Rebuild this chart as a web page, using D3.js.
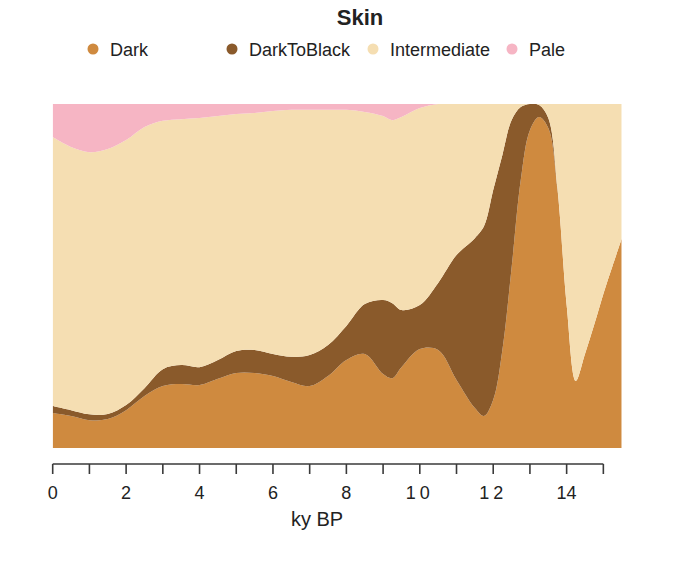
<!DOCTYPE html>
<html>
<head>
<meta charset="utf-8">
<script src="https://cdn.jsdelivr.net/npm/d3@7"></script>
<style>
    body { margin: 0; background: #fff; }
    svg { display: block; font-family: "Liberation Sans", Arial, sans-serif; }
</style>
</head>
<body>
<div id="chart"></div>
<script>
// proportions (%), stacked bottom -> top
const kyBP = [0, 0.5, 1, 1.5, 2, 2.5, 3, 3.5, 4, 4.5, 5, 5.5, 6, 6.5, 7, 7.5, 8, 8.5, 9, 9.25, 9.5,
    10, 10.5, 11, 11.5, 11.75, 12, 12.25, 12.5, 12.75, 13, 13.25, 13.5, 13.75, 14, 14.25, 14.5, 14.75, 15, 15.25, 15.5];

const dark = [10.2, 9.3, 8.1, 8.4, 11.0, 15.1, 18.0, 18.6, 18.3, 20.1, 21.8, 21.8, 20.9, 19.2, 18.0, 20.9, 25.6, 27.3, 21.5, 20.3, 23.5,
    28.8, 28.5, 19.8, 11.6, 9.3, 14.0, 28.5, 52.3, 77.9, 92.4, 96.2, 93.0, 75.0, 41.6, 19.5, 27.3, 35.8, 44.8, 52.9, 60.8];
const darkToBlack = [2.0, 1.7, 1.7, 1.5, 1.5, 2.3, 4.9, 5.5, 5.2, 5.5, 6.4, 6.7, 6.4, 7.3, 9.0, 9.0, 9.9, 14.5, 21.5, 21.8, 16.6,
    12.8, 19.5, 36.3, 49.4, 55.2, 61.0, 56.7, 43.0, 21.2, 7.6, 3.5, 2.9, 0.5, 0, 0, 0, 0, 0, 0, 0];
const intermediate = [78.2, 76.5, 76.2, 77.0, 77.0, 75.9, 72.1, 71.5, 72.4, 70.9, 68.9, 68.9, 70.6, 71.8, 71.2, 68.3, 62.8, 55.8, 53.5, 53.2, 56.1,
    57.3, 52.0, 43.9, 39.0, 35.5, 25.0, 14.8, 4.7, 0.9, 0, 0.3, 4.1, 24.5, 58.4, 80.5, 72.7, 64.2, 55.2, 47.1, 39.2];
const pale = [9.6, 12.5, 14.0, 13.1, 10.5, 6.7, 4.9, 4.4, 4.1, 3.5, 2.9, 2.6, 2.0, 1.7, 1.7, 1.7, 1.7, 2.3, 3.5, 4.7, 3.8,
    1.2, 0, 0, 0, 0, 0, 0, 0, 0, 0, 0, 0, 0, 0, 0, 0, 0, 0, 0, 0];

const categories = ["Dark", "DarkToBlack", "Intermediate", "Pale"];
const colors = ["#cf8a3f", "#8a5a2b", "#f5deb2", "#f6b5c4"];
const xTicks = d3.range(0, 16);
const xLabels = d3.range(0, 15, 2);

const width = 680, height = 569;
const plot = { left: 52.7, right: 621.7, top: 104, bottom: 448 };

const rows = kyBP.map((k, i) => ({
    ky: k,
    Dark: dark[i],
    DarkToBlack: darkToBlack[i],
    Intermediate: intermediate[i],
    Pale: pale[i]
}));

const svg = d3.select("#chart").append("svg")
    .attr("width", width)
    .attr("height", height);

const x = d3.scaleLinear().domain([0, 15.5]).range([plot.left, plot.right]);
const y = d3.scaleLinear().domain([0, 1]).range([plot.bottom, plot.top]);
const color = d3.scaleOrdinal().domain(categories).range(colors);

const series = d3.stack()
    .keys(categories)
    .offset(d3.stackOffsetExpand)(rows);

const area = d3.area()
    .curve(d3.curveCatmullRom.alpha(0.5))
    .x(d => x(d.data.ky))
    .y0(d => y(d[0]))
    .y1(d => y(d[1]));

svg.append("defs").append("clipPath")
    .attr("id", "plot-clip")
    .append("rect")
    .attr("x", plot.left).attr("y", plot.top)
    .attr("width", plot.right - plot.left)
    .attr("height", plot.bottom - plot.top);

svg.append("g")
    .attr("clip-path", "url(#plot-clip)")
    .selectAll("path")
    .data(series)
    .join("path")
    .attr("fill", d => color(d.key))
    .attr("d", area);

// axis: minor ticks every ky, labels every 2
const axisY = 464;
const gx = svg.append("g").attr("transform", `translate(0,${axisY})`);

gx.append("line")
    .attr("x1", x(0)).attr("x2", x(15))
    .attr("stroke", "#3a3a3a").attr("stroke-width", 1.6);

gx.selectAll("line.tick")
    .data(xTicks)
    .join("line")
    .attr("class", "tick")
    .attr("x1", d => x(d)).attr("x2", d => x(d))
    .attr("y1", 0).attr("y2", 10)
    .attr("stroke", "#3a3a3a").attr("stroke-width", 1.6);

gx.selectAll("text")
    .data(xLabels)
    .join("text")
    .attr("x", d => x(d))
    .attr("y", 35)
    .attr("text-anchor", "middle")
    .attr("font-size", 18)
    .attr("fill", "#222")
    .style("letter-spacing", d => (d === 10 || d === 12) ? "4px" : null)
    .text(d => d);

svg.append("text")
    .attr("x", 317)
    .attr("y", 526)
    .attr("text-anchor", "middle")
    .attr("font-size", 20)
    .attr("fill", "#222")
    .text("ky BP");

// title + legend
svg.append("text")
    .attr("x", 360)
    .attr("y", 25)
    .attr("text-anchor", "middle")
    .attr("font-size", 22)
    .attr("font-weight", "bold")
    .attr("fill", "#222")
    .text("Skin");

const legendX = [93, 232, 373, 512];
const legend = svg.append("g")
    .selectAll("g")
    .data(categories)
    .join("g")
    .attr("transform", (d, i) => `translate(${legendX[i]},49)`);

legend.append("circle")
    .attr("r", 5.5)
    .attr("fill", d => color(d));

legend.append("text")
    .attr("x", 17)
    .attr("y", 7)
    .attr("font-size", 18)
    .attr("fill", "#222")
    .text(d => d);
</script>
</body>
</html>
